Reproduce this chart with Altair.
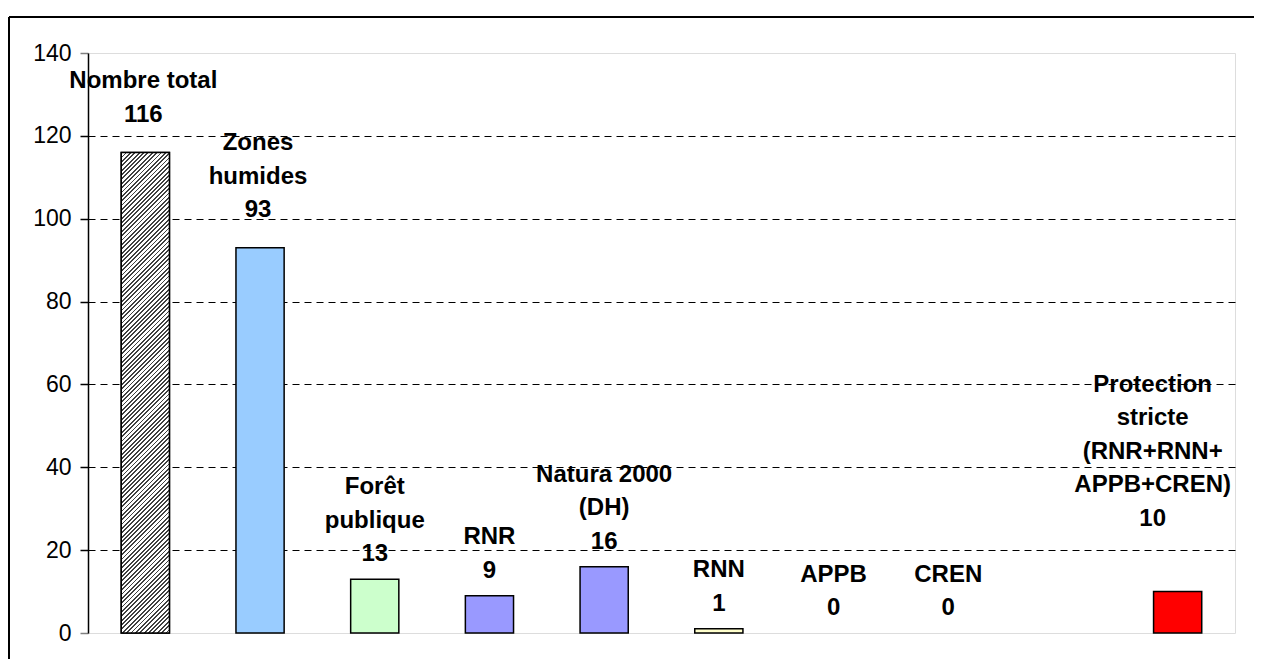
import altair as alt
import pandas as pd

# ---- data ----
categories = ["Nombre total", "Zones humides", "Forêt publique", "RNR",
              "Natura 2000 (DH)", "RNN", "APPB", "CREN", "_vide_",
              "Protection stricte"]
values = [116, 93, 13, 9, 16, 1, 0, 0, None, 10]
label_names = ["Nombre total", "Zones\nhumides", "Forêt\npublique", "RNR",
               "Natura 2000\n(DH)", "RNN", "APPB", "CREN", None,
               "Protection\nstricte\n(RNR+RNN+\nAPPB+CREN)"]
colors = ["#9a9a9a", "#99CCFF", "#CCFFCC", "#9999FF", "#9999FF",
          "#FFFFCC", "#FFFFCC", "#FFFFCC", "#FFFFFF", "#FF0000"]
y_ticks = [0, 20, 40, 60, 80, 100, 120, 140]

rows = []
for c, v, n in zip(categories, values, label_names):
    if v is None:
        continue
    rows.append({"cat": c, "val": v, "label": f"{n}\n{v}"})
df = pd.DataFrame(rows)

# ---- layout ----
PW, PH = 1147, 580
PAD_L, PAD_T, PAD_R, PAD_B = 80, 45, 19, 26
P_INNER = 0.58
FONT = "Liberation Sans"
LH = 33.5
Y_MAX = 140

x_scale = alt.Scale(domain=categories, paddingInner=P_INNER, paddingOuter=P_INNER / 2)
y_scale = alt.Scale(domain=[0, Y_MAX], nice=False)

x_enc = alt.X("cat:N", scale=x_scale, axis=None, sort=categories)
edge_test = "datum.value === 0 || datum.value === 140"
y_axis = alt.Axis(values=y_ticks, title=None,
                  labelFont=FONT, labelFontSize=23, labelColor="black",
                  labelPadding=9,
                  domainColor="black", domainWidth=1.5,
                  tickColor={"condition": {"test": edge_test, "value": "#808080"},
                             "value": "black"},
                  tickSize=8, tickWidth=1.5,
                  grid=True, gridColor="black", gridWidth=1,
                  gridDash=[7, 5],
                  gridOpacity={"condition": {"test": edge_test, "value": 0},
                               "value": 1})
y_enc = alt.Y("val:Q", scale=y_scale, axis=y_axis)

# hatch pattern for the first bar, built as a striped linear gradient
bw = PW / len(categories) * (1 - P_INNER)
bh = values[0] / Y_MAX * PH
k = (bw + bh) / (bw ** 2 + bh ** 2)
period = 3.1
n_str = int(round((bw + bh) / 2 ** 0.5 / period))
stops = []
for i in range(n_str):
    a = i / n_str
    b = (i + 0.42) / n_str
    c = (i + 1) / n_str
    stops += [alt.GradientStop(color="#404040", offset=a),
              alt.GradientStop(color="#404040", offset=b),
              alt.GradientStop(color="#ffffff", offset=b),
              alt.GradientStop(color="#ffffff", offset=c)]
hatch = alt.LinearGradient(gradient="linear", stops=stops,
                           x1=0, y1=0, x2=k * bw, y2=k * bh)

base = alt.Chart(df)

# zero-height bars are not drawn in the reference
bars = base.transform_filter(alt.datum.val > 0).mark_bar(stroke="black", strokeWidth=1.5).encode(
    x=x_enc, y=y_enc,
    fill=alt.Fill("cat:N", scale=alt.Scale(domain=categories, range=colors), legend=None),
)
hatch_bar = base.transform_filter(alt.datum.cat == categories[0]).mark_bar(
    fill=hatch, stroke="black", strokeWidth=1.5).encode(x=x_enc, y=y_enc)

txt_kw = dict(font=FONT, fontSize=24, fontWeight="bold", color="black",
              align="center", baseline="bottom", lineBreak="\n", lineHeight=LH)

# multi-line text grows downward from its anchor: lift the anchor by (lines-1) line heights
lift = f"datum.val + (length(split(datum.label, '\\n')) - 1) * {LH * Y_MAX / PH}"
y_txt = alt.Y("ytxt:Q", scale=y_scale, axis=y_axis)


def label_layer(flt, dy, dx=0):
    return base.transform_filter(flt).transform_calculate(ytxt=lift).mark_text(
        dy=dy, dx=dx, **txt_kw).encode(x=x_enc, y=y_txt, text="label:N")


labels_norm = label_layer(
    "indexof(['Nombre total','Zones humides','Protection stricte'], datum.cat) < 0", -13)
labels_high = label_layer(
    "indexof(['Nombre total','Zones humides'], datum.cat) >= 0", -25.5, -2)
labels_prot = label_layer("datum.cat === 'Protection stricte'", -61, -25)

frame_top = alt.Chart(df).mark_rule(color="black", strokeWidth=2).encode(
    x=alt.value(-PAD_L + 1), x2=alt.value(PW + PAD_R + 10), y=alt.value(-PAD_T + 9))
frame_left = alt.Chart(df).mark_rule(color="black", strokeWidth=2).encode(
    x=alt.value(-PAD_L + 1), y=alt.value(-PAD_T + 9), y2=alt.value(PH + PAD_B + 10))

chart = alt.layer(bars, hatch_bar, labels_norm, labels_high, labels_prot,
                  frame_top, frame_left).properties(
    width=PW, height=PH,
    autosize=alt.AutoSizeParams(type="none"),
    padding={"left": PAD_L, "top": PAD_T, "right": PAD_R, "bottom": PAD_B},
).configure_view(stroke="#888888", strokeWidth=2).configure(background="white")

chart.save("out.html", embed_options={"renderer": "svg", "actions": False})
